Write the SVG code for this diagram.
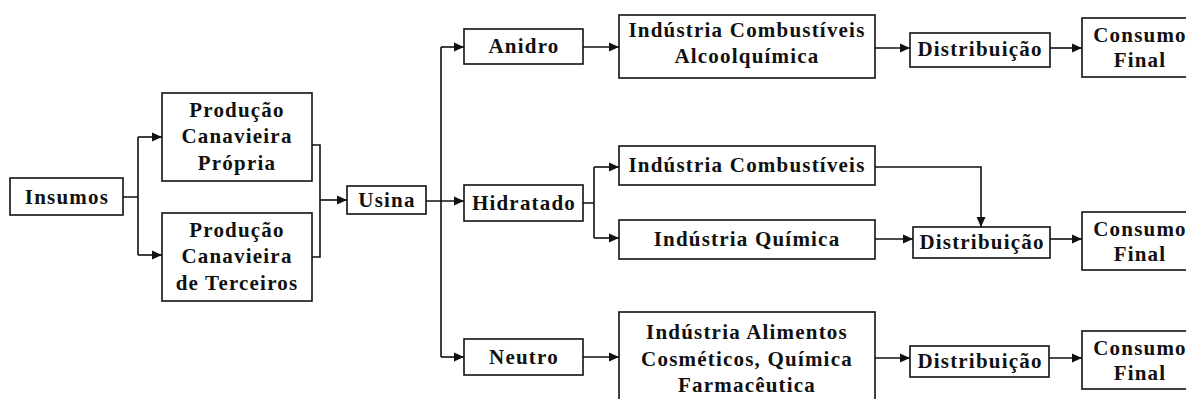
<svg xmlns="http://www.w3.org/2000/svg" width="1186" height="399" viewBox="0 0 1186 399">
<style>
.box{fill:#fff;stroke:#111;stroke-width:1.6}
.t{font-family:"Liberation Serif","Times New Roman",serif;font-weight:bold;font-size:21px;letter-spacing:1.2px;fill:#111;text-anchor:middle}
.c{fill:none;stroke:#111;stroke-width:1.6}
</style>
<defs>
<marker id="ah" markerUnits="userSpaceOnUse" markerWidth="11" markerHeight="10" refX="10" refY="5" orient="auto">
<path d="M0,0.5 L10,5 L0,9.5 z" fill="#111"/>
</marker>
</defs>
<rect width="1186" height="399" fill="#fff"/>
<g id="connectors">
<path class="c" d="M123,197 H138 M138,137 V255"/>
<path class="c" d="M138,137 H162" marker-end="url(#ah)"/>
<path class="c" d="M138,255 H162" marker-end="url(#ah)"/>
<path class="c" d="M312,145 H320 V257 H312"/>
<path class="c" d="M320,200 H347" marker-end="url(#ah)"/>
<path class="c" d="M441,47 V357"/>
<path class="c" d="M426,201 H464" marker-end="url(#ah)"/>
<path class="c" d="M441,47 H464" marker-end="url(#ah)"/>
<path class="c" d="M441,357 H464" marker-end="url(#ah)"/>
<path class="c" d="M583,203 H594 M594,167 V238"/>
<path class="c" d="M594,167 H619" marker-end="url(#ah)"/>
<path class="c" d="M594,238 H619" marker-end="url(#ah)"/>
<path class="c" d="M583,47 H619" marker-end="url(#ah)"/>
<path class="c" d="M583,357 H619" marker-end="url(#ah)"/>
<path class="c" d="M875,48 H910" marker-end="url(#ah)"/>
<path class="c" d="M1050,48 H1082" marker-end="url(#ah)"/>
<path class="c" d="M875,167 H981 V227" marker-end="url(#ah)"/>
<path class="c" d="M875,239 H913" marker-end="url(#ah)"/>
<path class="c" d="M1050,239 H1082" marker-end="url(#ah)"/>
<path class="c" d="M875,358 H910" marker-end="url(#ah)"/>
<path class="c" d="M1049,358 H1082" marker-end="url(#ah)"/>
</g>
<g id="insumos"><rect class="box" x="10" y="178" width="113" height="37"/><text class="t" x="67" y="204">Insumos</text></g>
<g id="producao-propria"><rect class="box" x="162" y="93" width="150" height="88"/>
<text class="t" x="237" y="117">Produção</text><text class="t" x="237" y="143">Canavieira</text><text class="t" x="237" y="170">Própria</text></g>
<g id="producao-terceiros"><rect class="box" x="162" y="213" width="150" height="88"/>
<text class="t" x="237" y="237">Produção</text><text class="t" x="237" y="263">Canavieira</text><text class="t" x="237" y="290">de Terceiros</text></g>
<g id="usina"><rect class="box" x="347" y="186" width="79" height="28"/><text class="t" x="387" y="207">Usina</text></g>
<g id="anidro"><rect class="box" x="464" y="29" width="119" height="35"/><text class="t" x="524" y="53">Anidro</text></g>
<g id="hidratado"><rect class="box" x="464" y="185" width="119" height="36"/><text class="t" x="524" y="210">Hidratado</text></g>
<g id="neutro"><rect class="box" x="464" y="339" width="119" height="36"/><text class="t" x="524" y="364">Neutro</text></g>
<g id="ind-comb-alcool"><rect class="box" x="619" y="15" width="256" height="63"/>
<text class="t" x="747" y="37">Indústria Combustíveis</text><text class="t" x="747" y="63">Alcoolquímica</text></g>
<g id="ind-combustiveis"><rect class="box" x="619" y="146" width="256" height="39"/><text class="t" x="747" y="172">Indústria Combustíveis</text></g>
<g id="ind-quimica"><rect class="box" x="619" y="220" width="256" height="39"/><text class="t" x="747" y="246">Indústria Química</text></g>
<g id="ind-alimentos"><rect class="box" x="619" y="312" width="256" height="100"/>
<text class="t" x="747" y="339">Indústria Alimentos</text><text class="t" x="747" y="366">Cosméticos, Química</text><text class="t" x="747" y="392">Farmacêutica</text></g>
<g id="dist-1"><rect class="box" x="910" y="33" width="140" height="34"/><text class="t" x="980" y="56">Distribuição</text></g>
<g id="dist-2"><rect class="box" x="913" y="227" width="137" height="31"/><text class="t" x="982" y="249">Distribuição</text></g>
<g id="dist-3"><rect class="box" x="910" y="346" width="139" height="31"/><text class="t" x="980" y="368">Distribuição</text></g>
<g id="consumo-1"><rect class="box" x="1082" y="18" width="116" height="59"/><text class="t" x="1140" y="42">Consumo</text><text class="t" x="1140" y="67">Final</text></g>
<g id="consumo-2"><rect class="box" x="1082" y="212" width="116" height="58"/><text class="t" x="1140" y="236">Consumo</text><text class="t" x="1140" y="261">Final</text></g>
<g id="consumo-3"><rect class="box" x="1082" y="331" width="116" height="58"/><text class="t" x="1140" y="355">Consumo</text><text class="t" x="1140" y="380">Final</text></g>
</svg>
